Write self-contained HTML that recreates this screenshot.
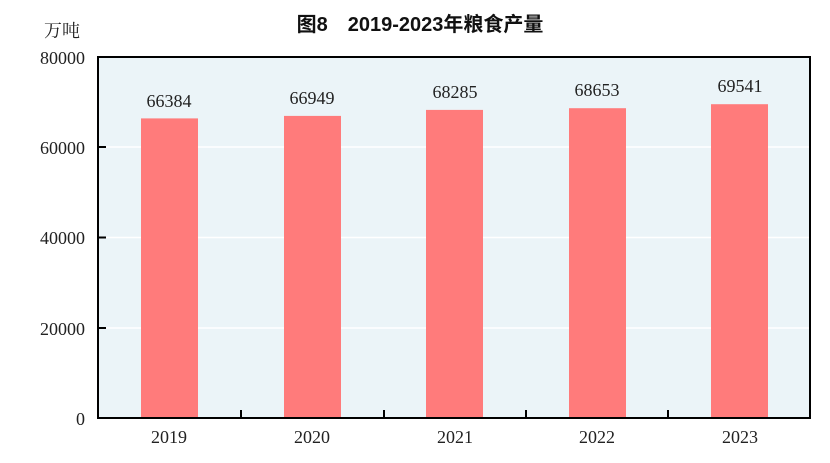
<!DOCTYPE html>
<html><head><meta charset="utf-8"><style>body{margin:0;background:#fff}svg{display:block}</style></head><body>
<svg width="830" height="463" xmlns="http://www.w3.org/2000/svg">
<text x="420" y="31" text-anchor="middle" font-family="'Liberation Sans','Noto Sans CJK SC',sans-serif" font-size="20" font-weight="bold" fill="#111">图8　2019-2023年粮食产量</text>
<rect x="98" y="57" width="712" height="361" fill="#ebf4f8"/>
<g stroke="#fff" stroke-width="1.5"><line x1="98" y1="147" x2="810" y2="147"/><line x1="98" y1="237.5" x2="810" y2="237.5"/><line x1="98" y1="328" x2="810" y2="328"/></g>
<g fill="#ff7b7b">
<rect x="141" y="118.4" width="57" height="299.6"/>
<rect x="284" y="115.9" width="57" height="302.1"/>
<rect x="426" y="109.9" width="57" height="308.1"/>
<rect x="569" y="108.2" width="57" height="309.8"/>
<rect x="711" y="104.2" width="57" height="313.8"/>
</g>
<g stroke="#000" stroke-width="2" fill="none">
<rect x="98" y="57" width="712" height="361"/>
<line x1="98" y1="147" x2="106" y2="147"/><line x1="98" y1="237.5" x2="106" y2="237.5"/><line x1="98" y1="328" x2="106" y2="328"/>
<line x1="241" y1="418" x2="241" y2="410"/><line x1="384" y1="418" x2="384" y2="410"/><line x1="526" y1="418" x2="526" y2="410"/><line x1="668" y1="418" x2="668" y2="410"/>
</g>
<g font-family="'Liberation Serif','Noto Serif CJK SC',serif" font-size="18" fill="#222">
<text x="62" y="37" text-anchor="middle">万吨</text>
<g text-anchor="end"><text x="85" y="64">80000</text><text x="85" y="154">60000</text><text x="85" y="244">40000</text><text x="85" y="335">20000</text><text x="85" y="425">0</text></g>
<g text-anchor="middle">
<text x="169" y="443">2019</text><text x="312" y="443">2020</text><text x="455" y="443">2021</text><text x="597" y="443">2022</text><text x="740" y="443">2023</text>
<text x="169" y="107">66384</text><text x="312" y="104">66949</text><text x="455" y="98">68285</text><text x="597" y="96">68653</text><text x="740" y="92">69541</text>
</g></g>
</svg>
</body></html>
